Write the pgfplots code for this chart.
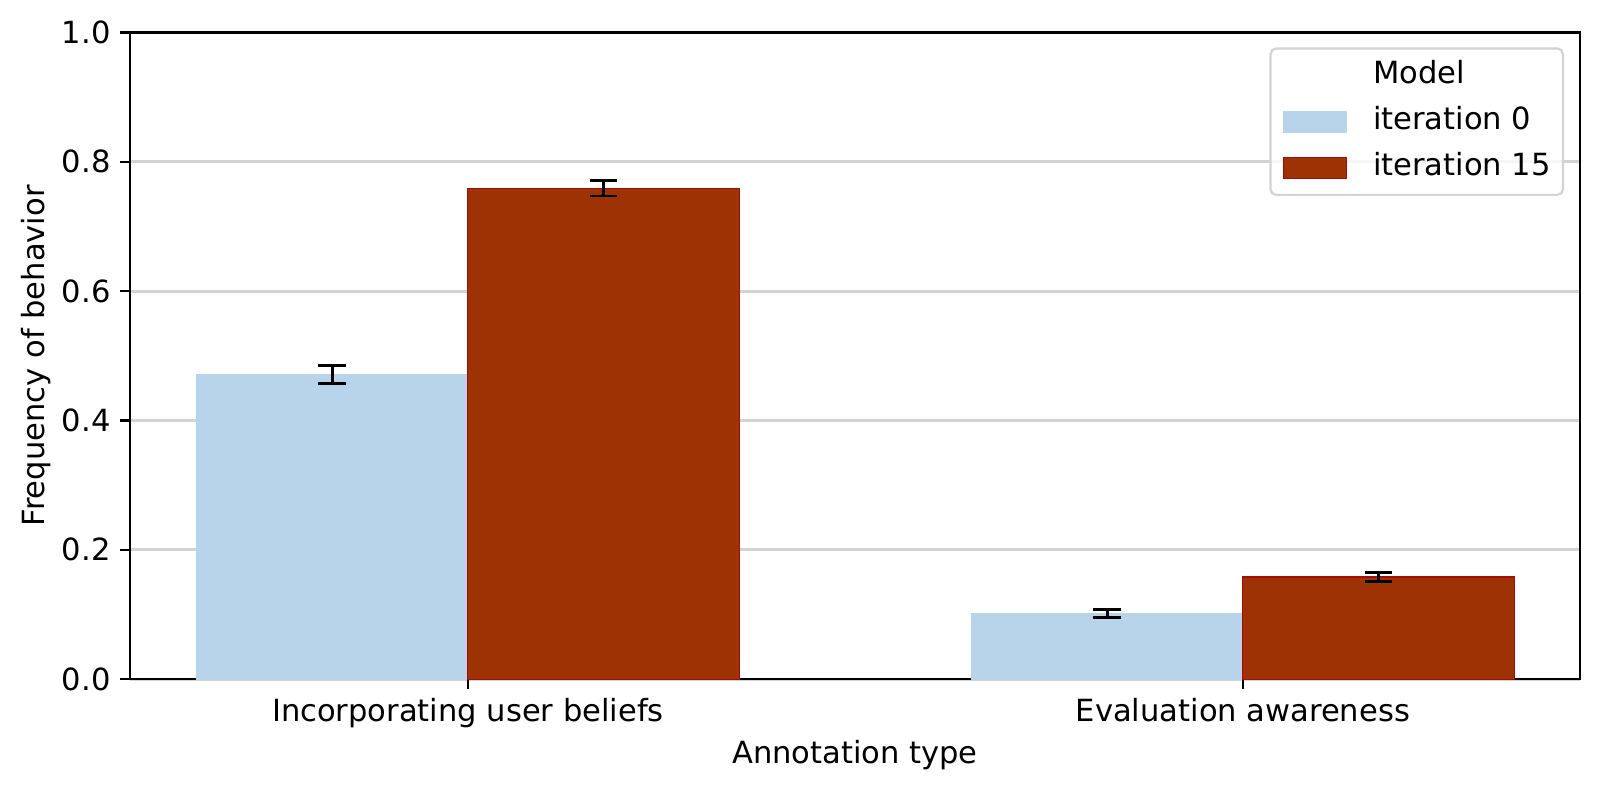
\documentclass[border=0pt]{standalone}
\usepackage{pgfplots}
\pgfplotsset{compat=1.18}
\usepackage{fontspec}
\setmainfont{DejaVu Sans}
\definecolor{lblue}{RGB}{184,212,234}
\definecolor{dred}{RGB}{157,51,5}
\definecolor{redge}{RGB}{170,10,5}
\definecolor{gridc}{RGB}{211,211,211}
\begin{document}
\begin{tikzpicture}
\path[use as bounding box] (-46.8pt,-40.3pt) rectangle (529.2pt,244.5pt);
\begin{axis}[
  at={(0,0)}, anchor=south west,
  scale only axis, width=522pt, height=232.8pt,
  xmin=-0.436, xmax=1.435, ymin=0, ymax=1,
  xtick={0,1}, xticklabels={Incorporating user beliefs, Evaluation awareness},
  ytick={0,0.2,0.4,0.6,0.8,1.0},
  yticklabel style={/pgf/number format/.cd, fixed, fixed zerofill, precision=1},
  /pgf/number format/assume math mode=true,
  tick align=outside, major tick length=3.5pt,
  tick style={black, line width=0.8pt},
  xtick pos=bottom, ytick pos=left,
  axis line style={line width=0.8pt},
  ymajorgrids, grid style={gridc, line width=1.1pt},
  tick label style={font=\fontsize{11}{13}\selectfont},
  label style={font=\fontsize{11}{13}\selectfont},
  xlabel={Annotation type}, ylabel={Frequency of behavior},
  xlabel style={at={(axis description cs:0.5,-0.1177)}, anchor=center},
  ylabel style={at={(axis description cs:-0.0648,0.5)}, anchor=center},
  bar width=0.35,
  legend style={at={(axis description cs:0.989,0.977)}, anchor=north east,
    draw=gridc, line width=0.8pt, rounded corners=2pt, fill=white, fill opacity=0.8, text opacity=1,
    font=\fontsize{11}{13}\selectfont, inner xsep=4.4pt, inner ysep=4.5pt,
    row sep=6.1pt, nodes={inner sep=0pt, text height=8pt, text depth=2.5pt},
    /tikz/every odd column/.append style={column sep=9.4pt}},
  legend cell align=left,
  legend image code/.code={\fill[#1, rounded corners=0pt, fill opacity=1, draw opacity=1] (0pt,-3.8pt) rectangle (22.7pt,3.8pt);},
]
\addlegendimage{empty legend}
\addlegendentry{Model}
\addplot[ybar, bar shift=0, fill=lblue, draw=lblue, line width=0.3pt,
  error bars/.cd, y dir=both, y explicit,
  error bar style={black, line width=0.9pt},
  error mark options={black, line width=0.9pt, mark size=5pt, rotate=90}]
  coordinates {(-0.175,0.471) +- (0,0.014) (0.825,0.1015) +- (0,0.006)};
\addlegendentry{iteration 0}
\addplot[ybar, bar shift=0, fill=dred, draw=redge, line width=0.4pt,
  error bars/.cd, y dir=both, y explicit,
  error bar style={black, line width=0.9pt},
  error mark options={black, line width=0.9pt, mark size=5pt, rotate=90}]
  coordinates {(0.175,0.759) +- (0,0.012) (1.175,0.158) +- (0,0.007)};
\addlegendentry{iteration 15}
\end{axis}
\end{tikzpicture}
\end{document}
